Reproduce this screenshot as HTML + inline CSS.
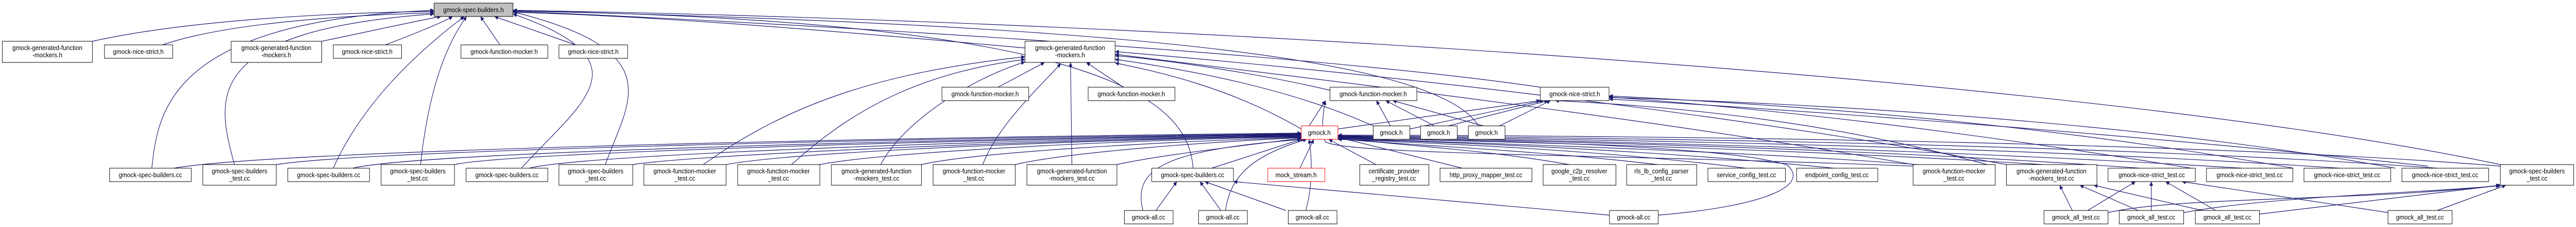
<!DOCTYPE html>
<html><head><meta charset="utf-8"><meta name="viewport" content="width=5549, initial-scale=1"><style>
html,body{margin:0;padding:0;background:#fff;width:100%;height:100%;overflow:hidden;}
svg{display:block;width:100%;height:100%;}
text{font-family:"Liberation Sans",sans-serif;font-size:13px;fill:#000;text-anchor:middle;}
.e{fill:none;stroke:#191970;stroke-width:1.2;marker-end:url(#ah);}
.n{fill:#fff;stroke:#000;stroke-width:1;}
</style></head><body>
<svg viewBox="0 0 5549 440" preserveAspectRatio="none" xmlns="http://www.w3.org/2000/svg">
<defs><marker id="ah" viewBox="0 0 10 10" refX="10" refY="5" markerWidth="10" markerHeight="8" markerUnits="userSpaceOnUse" orient="auto"><path d="M0,0 L10,5 L0,10 z" fill="#191970"/></marker></defs>

<path class="e" d="M199,80 C400,40 700,25 935,22"/>
<path class="e" d="M350,87 C500,40 800,28 935,25"/>
<path class="e" d="M693,80 C800,60 900,40 950,32"/>
<path class="e" d="M830,87 C880,70 950,45 975,32"/>
<path class="e" d="M1077,87 L1035,32"/>
<path class="e" d="M1240,87 L1065,32"/>
<path class="e" d="M2208,93 C1800,60 1400,30 1105,24"/>
<path class="e" d="M327,326 C340,220 360,40 935,20"/>
<path class="e" d="M505,319 C470,200 420,60 935,27"/>
<path class="e" d="M718,326 C780,200 900,100 1000,32"/>
<path class="e" d="M906,319 C920,200 950,100 1005,32"/>
<path class="e" d="M1123,326 C1250,200 1400,120 1105,27"/>
<path class="e" d="M1304,319 C1350,200 1450,100 1105,23"/>
<path class="e" d="M2570,326 C2560,200 2400,40 1105,21"/>
<path class="e" d="M3318,169 C2800,100 1600,40 1105,22"/>
<path class="e" d="M5386,319 C4500,150 2500,40 1105,20"/>
<path class="e" d="M3185,244 C3100,120 2500,50 1105,21"/>

<path class="e" d="M2150,169 L2250,121"/>
<path class="e" d="M2420,169 L2340,121"/>
<path class="e" d="M1515,319 C1700,200 1900,140 2208,110"/>
<path class="e" d="M1705,319 C1850,200 2000,140 2208,115"/>
<path class="e" d="M1897,319 C1950,230 2100,150 2208,120"/>
<path class="e" d="M2117,319 C2150,240 2250,160 2285,123"/>
<path class="e" d="M2309,319 L2306,121"/>
<path class="e" d="M2803,250 C2650,170 2500,140 2402,122"/>
<path class="e" d="M2958,244 C2800,180 2600,140 2402,115"/>
<path class="e" d="M2865,175 C2700,140 2500,115 2402,108"/>
<path class="e" d="M4121,319 C3500,220 2700,140 2402,105"/>
<path class="e" d="M4322,319 C3600,200 2800,130 2402,100"/>

<path class="e" d="M375,326 C600,290 2000,265 2803,258"/>
<path class="e" d="M595,319 C800,290 2000,268 2803,259"/>
<path class="e" d="M760,326 C900,295 2000,270 2803,260"/>
<path class="e" d="M979,319 C1100,295 2100,270 2803,261"/>
<path class="e" d="M1140,326 C1250,300 2100,272 2803,262"/>
<path class="e" d="M1363,319 C1500,300 2200,272 2803,263"/>
<path class="e" d="M1564,319 C1700,295 2300,272 2803,264"/>
<path class="e" d="M1766,319 C1900,295 2400,272 2803,265"/>
<path class="e" d="M1985,319 C2100,295 2500,275 2803,266"/>
<path class="e" d="M2187,319 C2300,295 2600,275 2803,267"/>
<path class="e" d="M2406,319 C2500,300 2700,280 2803,268"/>
<path class="e" d="M2610,326 L2803,270"/>
<path class="e" d="M2800,326 L2830,270"/>
<path class="e" d="M2813,408 C2830,350 2825,300 2820,270"/>
<path class="e" d="M2462,408 C2440,330 2500,290 2810,270"/>
<path class="e" d="M2640,408 C2650,340 2700,300 2815,270"/>
<path class="e" d="M2964,319 L2862,270"/>
<path class="e" d="M3150,326 L2882,266"/>
<path class="e" d="M3380,319 C3200,290 3000,280 2882,268"/>
<path class="e" d="M3570,319 C3300,290 3000,280 2882,269"/>
<path class="e" d="M3760,326 C3400,285 3000,275 2882,270"/>
<path class="e" d="M3950,326 C3500,285 3000,272 2882,270"/>
<path class="e" d="M4130,319 C3700,290 3100,275 2882,268"/>
<path class="e" d="M4400,319 C3800,285 3100,272 2882,267"/>
<path class="e" d="M4610,326 C3900,280 3100,270 2882,266"/>
<path class="e" d="M4830,326 C4000,280 3100,268 2882,265"/>
<path class="e" d="M5040,326 C4200,275 3100,267 2882,264"/>
<path class="e" d="M5250,326 C4400,270 3100,265 2882,263"/>
<path class="e" d="M5386,322 C4600,265 3100,262 2882,262"/>
<path class="e" d="M3572,417 C3800,400 3900,360 3850,320 C3700,275 3000,270 2882,268"/>

<path class="e" d="M2820,244 L2855,195"/>
<path class="e" d="M2995,244 L2965,195"/>
<path class="e" d="M3090,244 L2985,195"/>
<path class="e" d="M3195,244 L3000,195"/>
<path class="e" d="M4121,322 C3500,300 2900,300 2855,275 C2845,250 2850,220 2855,195"/>

<path class="e" d="M2882,250 L3318,195"/>
<path class="e" d="M3037,250 L3325,195"/>
<path class="e" d="M3120,244 L3335,195"/>
<path class="e" d="M3230,244 L3340,195"/>
<path class="e" d="M4720,326 C4200,250 3800,210 3466,188"/>
<path class="e" d="M4940,326 C4400,240 3900,205 3466,186"/>
<path class="e" d="M5160,326 C4600,235 3900,200 3466,189"/>
<path class="e" d="M5230,322 C4600,260 3900,215 3466,192"/>
<path class="e" d="M4280,319 C4000,250 3700,210 3350,195"/>

<path class="e" d="M2490,408 L2535,352"/>
<path class="e" d="M2630,408 L2585,352"/>
<path class="e" d="M2770,408 L2595,352"/>
<path class="e" d="M3467,417 L2657,352"/>

<path class="e" d="M4464,408 L4437,359"/>
<path class="e" d="M4606,408 L4480,359"/>
<path class="e" d="M4744,408 L4510,359"/>
<path class="e" d="M4497,408 L4600,352"/>
<path class="e" d="M4634,408 L4634,352"/>
<path class="e" d="M4773,408 L4665,352"/>
<path class="e" d="M5144,412 L4700,352"/>
<path class="e" d="M4541,412 C4700,380 5100,390 5385,359"/>
<path class="e" d="M4704,412 C4900,380 5200,375 5385,360"/>
<path class="e" d="M4867,415 L5388,359"/>
<path class="e" d="M5250,408 L5398,359"/>

<g>
<rect x="935" y="6" width="170" height="26" fill="#bfbfbf" stroke="#000"/><text x="1020" y="23.5">gmock-spec-builders.h</text>

<rect class="n" x="5" y="80" width="194" height="41"/><text x="102" y="97">gmock-generated-function</text><text x="102" y="111">-mockers.h</text>
<rect class="n" x="225" y="87" width="147" height="26"/><text x="298" y="104.5">gmock-nice-strict.h</text>
<rect class="n" x="498" y="80" width="195" height="41"/><text x="595" y="97">gmock-generated-function</text><text x="595" y="111">-mockers.h</text>
<rect class="n" x="718" y="87" width="147" height="26"/><text x="791" y="104.5">gmock-nice-strict.h</text>
<rect class="n" x="993" y="87" width="187" height="26"/><text x="1086" y="104.5">gmock-function-mocker.h</text>
<rect class="n" x="1204" y="87" width="148" height="26"/><text x="1278" y="104.5">gmock-nice-strict.h</text>
<rect class="n" x="2208" y="80" width="194" height="41"/><text x="2305" y="97">gmock-generated-function</text><text x="2305" y="111">-mockers.h</text>

<rect class="n" x="2029" y="169" width="187" height="26"/><text x="2122" y="186.5">gmock-function-mocker.h</text>
<rect class="n" x="2344" y="169" width="187" height="26"/><text x="2437" y="186.5">gmock-function-mocker.h</text>
<rect class="n" x="2865" y="169" width="187" height="26"/><text x="2958" y="186.5">gmock-function-mocker.h</text>
<rect class="n" x="3318" y="169" width="148" height="26"/><text x="3392" y="186.5">gmock-nice-strict.h</text>

<rect x="2803" y="244" width="79" height="26" fill="#fff" stroke="#ff0000"/><text x="2842" y="261.5">gmock.h</text>
<rect class="n" x="2958" y="244" width="79" height="26"/><text x="2997" y="261.5">gmock.h</text>
<rect class="n" x="3060" y="244" width="79" height="26"/><text x="3099" y="261.5">gmock.h</text>
<rect class="n" x="3163" y="244" width="79" height="26"/><text x="3202" y="261.5">gmock.h</text>

<rect class="n" x="236" y="326" width="176" height="26"/><text x="324" y="343.5">gmock-spec-builders.cc</text>
<rect class="n" x="437" y="319" width="158" height="40"/><text x="516" y="336">gmock-spec-builders</text><text x="516" y="350">_test.cc</text>
<rect class="n" x="620" y="326" width="176" height="26"/><text x="708" y="343.5">gmock-spec-builders.cc</text>
<rect class="n" x="821" y="319" width="158" height="40"/><text x="900" y="336">gmock-spec-builders</text><text x="900" y="350">_test.cc</text>
<rect class="n" x="1004" y="326" width="176" height="26"/><text x="1092" y="343.5">gmock-spec-builders.cc</text>
<rect class="n" x="1204" y="319" width="159" height="40"/><text x="1283" y="336">gmock-spec-builders</text><text x="1283" y="350">_test.cc</text>
<rect class="n" x="1387" y="319" width="177" height="40"/><text x="1475" y="336">gmock-function-mocker</text><text x="1475" y="350">_test.cc</text>
<rect class="n" x="1589" y="319" width="177" height="40"/><text x="1677" y="336">gmock-function-mocker</text><text x="1677" y="350">_test.cc</text>
<rect class="n" x="1791" y="319" width="194" height="40"/><text x="1888" y="336">gmock-generated-function</text><text x="1888" y="350">-mockers_test.cc</text>
<rect class="n" x="2010" y="319" width="177" height="40"/><text x="2098" y="336">gmock-function-mocker</text><text x="2098" y="350">_test.cc</text>
<rect class="n" x="2212" y="319" width="194" height="40"/><text x="2309" y="336">gmock-generated-function</text><text x="2309" y="350">-mockers_test.cc</text>
<rect class="n" x="2481" y="326" width="176" height="26"/><text x="2569" y="343.5">gmock-spec-builders.cc</text>
<rect x="2731" y="326" width="123" height="26" fill="#fff" stroke="#ff0000"/><text x="2792" y="343.5">mock_stream.h</text>
<rect class="n" x="2929" y="319" width="149" height="40"/><text x="3003" y="336">certificate_provider</text><text x="3003" y="350">_registry_test.cc</text>
<rect class="n" x="3102" y="326" width="198" height="26"/><text x="3201" y="343.5">http_proxy_mapper_test.cc</text>
<rect class="n" x="3324" y="319" width="157" height="40"/><text x="3402" y="336">google_c2p_resolver</text><text x="3402" y="350">_test.cc</text>
<rect class="n" x="3504" y="319" width="151" height="40"/><text x="3579" y="336">rls_lb_config_parser</text><text x="3579" y="350">_test.cc</text>
<rect class="n" x="3679" y="326" width="167" height="26"/><text x="3762" y="343.5">service_config_test.cc</text>
<rect class="n" x="3870" y="326" width="175" height="26"/><text x="3957" y="343.5">endpoint_config_test.cc</text>
<rect class="n" x="4121" y="319" width="177" height="40"/><text x="4209" y="336">gmock-function-mocker</text><text x="4209" y="350">_test.cc</text>
<rect class="n" x="4322" y="319" width="195" height="40"/><text x="4419" y="336">gmock-generated-function</text><text x="4419" y="350">-mockers_test.cc</text>
<rect class="n" x="4541" y="326" width="188" height="26"/><text x="4635" y="343.5">gmock-nice-strict_test.cc</text>
<rect class="n" x="4753" y="326" width="186" height="26"/><text x="4846" y="343.5">gmock-nice-strict_test.cc</text>
<rect class="n" x="4963" y="326" width="187" height="26"/><text x="5056" y="343.5">gmock-nice-strict_test.cc</text>
<rect class="n" x="5174" y="326" width="187" height="26"/><text x="5267" y="343.5">gmock-nice-strict_test.cc</text>
<rect class="n" x="5386" y="319" width="158" height="40"/><text x="5465" y="336">gmock-spec-builders</text><text x="5465" y="350">_test.cc</text>

<rect class="n" x="2422" y="408" width="105" height="26"/><text x="2474" y="425.5">gmock-all.cc</text>
<rect class="n" x="2582" y="408" width="105" height="26"/><text x="2634" y="425.5">gmock-all.cc</text>
<rect class="n" x="2775" y="408" width="105" height="26"/><text x="2827" y="425.5">gmock-all.cc</text>
<rect class="n" x="3467" y="408" width="105" height="26"/><text x="3519" y="425.5">gmock-all.cc</text>
<rect class="n" x="4403" y="408" width="138" height="26"/><text x="4472" y="425.5">gmock_all_test.cc</text>
<rect class="n" x="4565" y="408" width="139" height="26"/><text x="4634" y="425.5">gmock_all_test.cc</text>
<rect class="n" x="4729" y="408" width="138" height="26"/><text x="4798" y="425.5">gmock_all_test.cc</text>
<rect class="n" x="5144" y="408" width="138" height="26"/><text x="5213" y="425.5">gmock_all_test.cc</text>
</g>
</svg>
</body></html>
